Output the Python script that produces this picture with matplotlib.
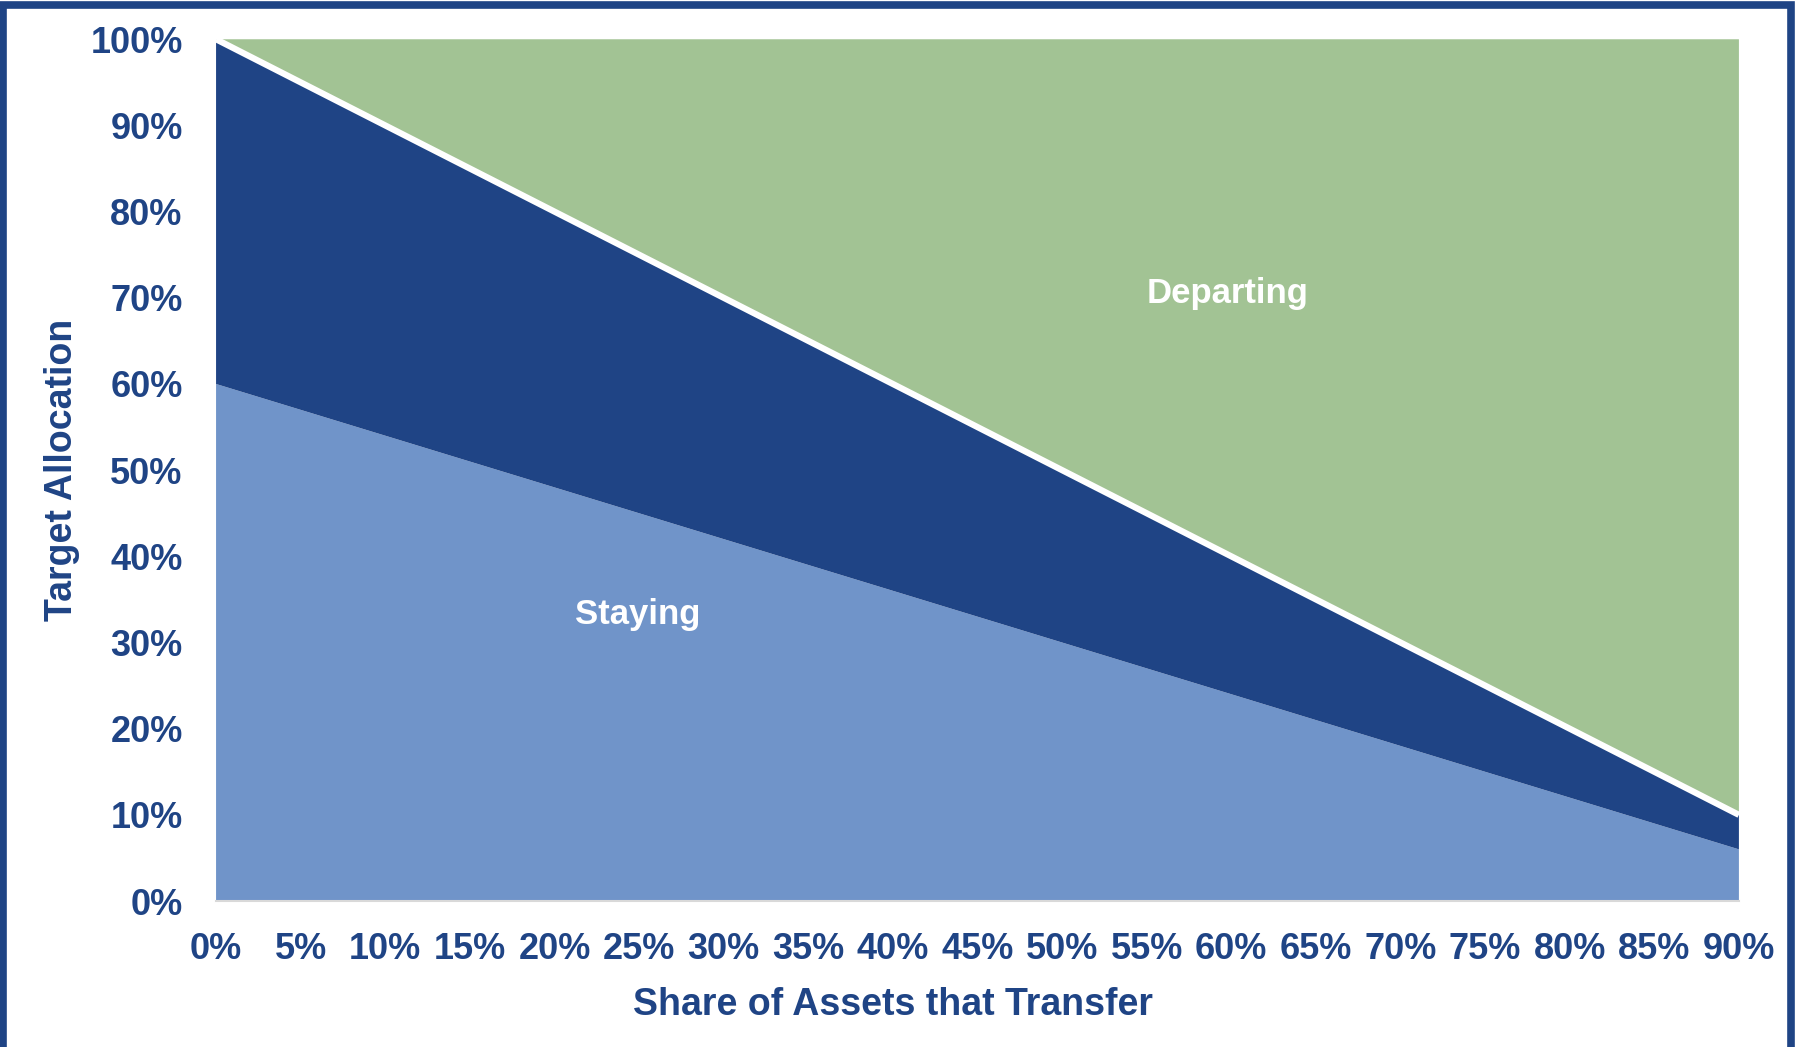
import numpy as np
import matplotlib.pyplot as plt
from matplotlib.patches import Rectangle

# data (percent)
share = [0, 5, 10, 15, 20, 25, 30, 35, 40, 45, 50, 55, 60, 65, 70, 75, 80, 85, 90]
staying_light = [60, 57, 54, 51, 48, 45, 42, 39, 36, 33, 30, 27, 24, 21, 18, 15, 12, 9, 6]
staying_dark = [40, 38, 36, 34, 32, 30, 28, 26, 24, 22, 20, 18, 16, 14, 12, 10, 8, 6, 4]
departing = [0, 5, 10, 15, 20, 25, 30, 35, 40, 45, 50, 55, 60, 65, 70, 75, 80, 85, 90]

navy = '#1F4485'
light = '#7094C9'
green = '#A2C394'

plt.rcParams['font.family'] = ['Liberation Sans', 'DejaVu Sans']

fig = plt.figure(figsize=(17.99, 10.47), dpi=100)
ax = fig.add_axes([0.1201, 0.1394, 0.8465, 0.8231])

ax.stackplot(share, staying_light, staying_dark, departing,
             colors=[light, navy, green], linewidth=0)
top = np.array(staying_light) + np.array(staying_dark)
ax.plot(share, top, color='white', lw=4.5, solid_capstyle='butt')

ax.set_xlim(0, 90)
ax.set_ylim(0, 100)
ax.set_xticks(share)
ax.set_xticklabels([f'{v}%' for v in share])
ax.set_yticks(range(0, 101, 10))
ax.set_yticklabels([f'{v}%' for v in range(0, 101, 10)])
ax.tick_params(length=0, labelsize=26, labelcolor=navy)
ax.tick_params(axis='y', pad=24)
ax.tick_params(axis='x', pad=22)
for lab in ax.get_xticklabels() + ax.get_yticklabels():
    lab.set_fontweight('bold')
for s in ['top', 'right', 'left']:
    ax.spines[s].set_visible(False)
ax.spines['bottom'].set_color('#D9D9D9')
ax.spines['bottom'].set_linewidth(1.5)

ax.text(59.8, 70.5, 'Departing', color='white', fontsize=25, fontweight='bold',
        ha='center', va='center')
ax.text(24.9, 33.2, 'Staying', color='white', fontsize=25, fontweight='bold',
        ha='center', va='center')

fig.text(893 / 1799, 1 - 1005 / 1047, 'Share of Assets that Transfer', color=navy,
         fontsize=27, fontweight='bold', ha='center', va='center')
fig.text(62 / 1799, 1 - 470 / 1047, 'Target Allocation', color=navy,
         fontsize=27, fontweight='bold', ha='center', va='center', rotation=90)

# outer frame (open at the bottom)
fig.patches.append(Rectangle((3.5 / 1799, -0.05), 1788 / 1799, 1.05 - 4.5 / 1047,
                             transform=fig.transFigure, fill=False,
                             edgecolor=navy, lw=5.5))

fig.savefig('out.png', dpi=100)
